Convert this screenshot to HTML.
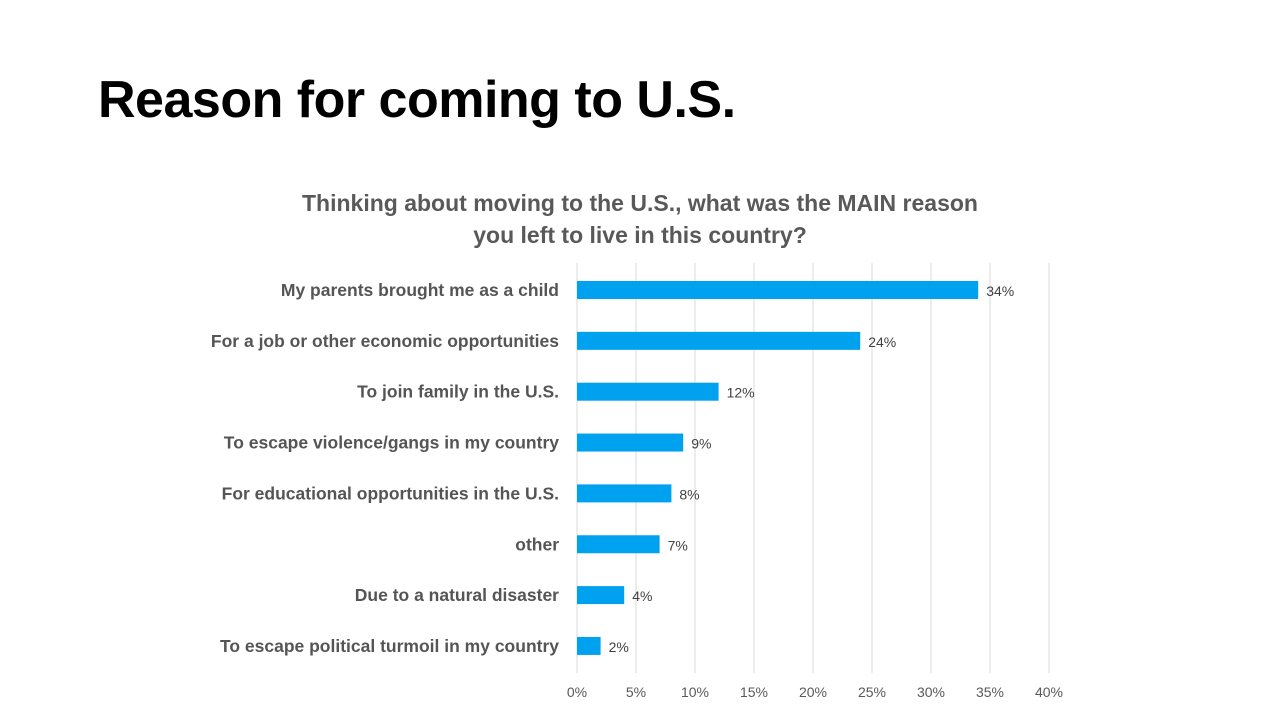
<!DOCTYPE html>
<html><head><meta charset="utf-8"><style>
body{margin:0;background:#fff;width:1280px;height:720px;overflow:hidden;font-family:"Liberation Sans",sans-serif}
#t{position:absolute;left:98px;top:70px;font-size:52px;font-weight:bold;color:#000;letter-spacing:-0.5px}
</style></head><body>
<div id="t">Reason for coming to U.S.</div>
<svg id="c" width="1280" height="720" style="position:absolute;left:0;top:0">
<text x="640" y="211" text-anchor="middle" font-size="23" font-weight="bold" fill="#595959">Thinking about moving to the U.S., what was the MAIN reason</text>
<text x="640" y="243" text-anchor="middle" font-size="23" font-weight="bold" fill="#595959">you left to live in this country?</text>
</svg>
<script>
const categories=["My parents brought me as a child","For a job or other economic opportunities","To join family in the U.S.","To escape violence/gangs in my country","For educational opportunities in the U.S.","other","Due to a natural disaster","To escape political turmoil in my country"];
const values=[34,24,12,9,8,7,4,2];
const ticks=[0,5,10,15,20,25,30,35,40];
const svg=document.getElementById('c');const NS='http://www.w3.org/2000/svg';
const x=v=>577+v*(1049-577)/40;
const y=i=>290+i*50.85;
function mk(t,a){const e=document.createElementNS(NS,t);for(const k in a)e.setAttribute(k,a[k]);svg.appendChild(e);return e;}
ticks.forEach(t=>{
const l=mk('line',{x1:x(t),x2:x(t),y1:263,y2:673,stroke:'#d9d9d9','stroke-width':1});


const tx=mk('text',{x:x(t),y:697,'text-anchor':'middle','font-size':14,fill:'#595959'});tx.textContent=t+'%';


});
categories.forEach((c,i)=>{
const lb=mk('text',{x:559,y:y(i)+6,'text-anchor':'end','font-size':17.5,'font-weight':'bold',fill:'#555555'});lb.textContent=c;


const b=mk('rect',{x:x(0),y:y(i)-9,width:x(values[i])-x(0),height:18,fill:'#00a2f0'});


const v=mk('text',{x:x(values[i])+8,y:y(i)+6,'font-size':14,fill:'#404040'});v.textContent=values[i]+'%';


});
</script>
</body></html>
